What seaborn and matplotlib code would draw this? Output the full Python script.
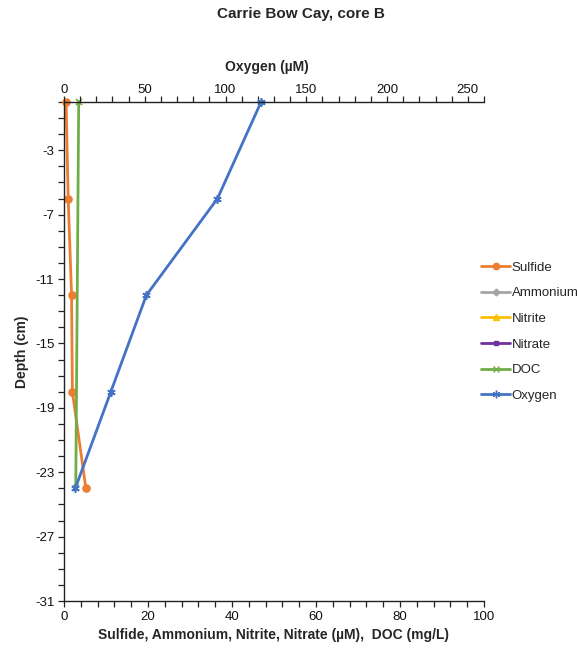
import matplotlib
matplotlib.use("Agg")
import matplotlib.pyplot as plt
from matplotlib.ticker import MultipleLocator
from matplotlib.lines import Line2D
import seaborn as sns

# Core B profiles
depth_cm = [0, -6, -12, -18, -24]
sulfide_uM = [0.5, 1.0, 1.8, 2.0, 5.2]
ammonium_uM = []
nitrite_uM = []
nitrate_uM = []
doc_depth_cm = [0, -24]
doc_mgL = [3.5, 2.8]
oxygen_uM = [122, 95, 51, 29, 7]

series_names = ["Sulfide", "Ammonium", "Nitrite", "Nitrate", "DOC", "Oxygen"]

sns.set_style("white")
plt.rcParams["font.family"] = ["Liberation Sans", "DejaVu Sans"]
plt.rcParams["axes.unicode_minus"] = False

colors = {
    "Sulfide": "#ED7D31",
    "Ammonium": "#A5A5A5",
    "Nitrite": "#FFC000",
    "Nitrate": "#7030A0",
    "DOC": "#70AD47",
    "Oxygen": "#4472C4",
}
markers = {
    "Sulfide": "o",
    "Ammonium": "D",
    "Nitrite": "^",
    "Nitrate": "s",
    "DOC": "x",
    "Oxygen": (6, 2, 0),
}
msize = {"Sulfide": 5, "Ammonium": 4, "Nitrite": 4.5, "Nitrate": 4,
         "DOC": 5, "Oxygen": 6}
LW = 2.0

fig = plt.figure(figsize=(5.77, 6.52), dpi=100)
ax = fig.add_axes([64 / 577, 1 - 601 / 652, (484 - 64) / 577, (601 - 102) / 652])

def draw(axis, x, y, name):
    if len(x):
        sns.lineplot(x=x, y=y, ax=axis, sort=False, estimator=None,
                     color=colors[name], linewidth=LW, marker=markers[name],
                     markersize=msize[name], markeredgecolor=colors[name],
                     markeredgewidth=1.2, legend=False, clip_on=False)
    else:
        axis.plot(x, y, color=colors[name], lw=LW, marker=markers[name],
                  ms=msize[name])

draw(ax, sulfide_uM, depth_cm, "Sulfide")
draw(ax, ammonium_uM, [], "Ammonium")
draw(ax, nitrite_uM, [], "Nitrite")
draw(ax, nitrate_uM, [], "Nitrate")
draw(ax, doc_mgL, doc_depth_cm, "DOC")

ax.set_xlim(0, 100)
ax.set_ylim(-31, 0)
ax.xaxis.set_major_locator(MultipleLocator(20))
ax.xaxis.set_minor_locator(MultipleLocator(4))
ax.set_yticks(list(range(-31, 0, 4)))
ax.yaxis.set_minor_locator(MultipleLocator(1))

ax2 = ax.twiny()
draw(ax2, oxygen_uM, depth_cm, "Oxygen")
ax2.set_xlim(0, 260)
ax2.set_ylim(-31, 0)
ax2.xaxis.set_major_locator(MultipleLocator(50))
ax2.xaxis.set_minor_locator(MultipleLocator(10))

for a in (ax, ax2):
    for s in a.spines.values():
        s.set_visible(False)
    a.tick_params(which="both", direction="out", length=4, width=0.9,
                  color="#222222", labelsize=9.5, labelcolor="#111111", pad=3)

ax.spines["left"].set_visible(True)
ax.spines["bottom"].set_visible(True)
ax2.spines["top"].set_visible(True)
for s in (ax.spines["left"], ax.spines["bottom"], ax2.spines["top"]):
    s.set_color("#222222")
    s.set_linewidth(1.0)

ax.tick_params(axis="x", which="both", bottom=True, top=False)
ax.tick_params(axis="y", which="both", left=True, right=False)
ax2.tick_params(axis="x", which="both", top=True, bottom=False,
                labeltop=True, labelbottom=False, pad=0.5)
ax2.tick_params(axis="y", which="both", left=False, right=False,
                labelleft=False, labelright=False)

ax.set_xlabel("Sulfide, Ammonium, Nitrite, Nitrate (\u00b5M),  DOC (mg/L)",
              fontsize=10, fontweight="bold", labelpad=4)
ax.set_ylabel("Depth (cm)", fontsize=10, fontweight="bold", labelpad=4)
ax2.set_xlabel("Oxygen (\u00b5M)", fontsize=10, fontweight="bold")
ax2.xaxis.set_label_coords((267 - 64) / 420, (102 - 67) / 499 + 1)
ax2.xaxis.label.set_va("center")

fig.suptitle("Carrie Bow Cay, core B", x=301 / 577, y=1 - 14 / 652,
             va="center", fontsize=11, fontweight="bold")

handles = [Line2D([], [], color=colors[n], lw=LW, marker=markers[n],
                  ms=msize[n] - 0.5, markeredgecolor=colors[n])
           for n in series_names]
fig.legend(handles, series_names, loc="upper left",
           bbox_to_anchor=(476 / 577, 1 - 256 / 652), frameon=False,
           fontsize=9.5, handlelength=2.2, handletextpad=0.1,
           labelspacing=1.02, borderaxespad=0)

fig.savefig("out.png", dpi=100)
